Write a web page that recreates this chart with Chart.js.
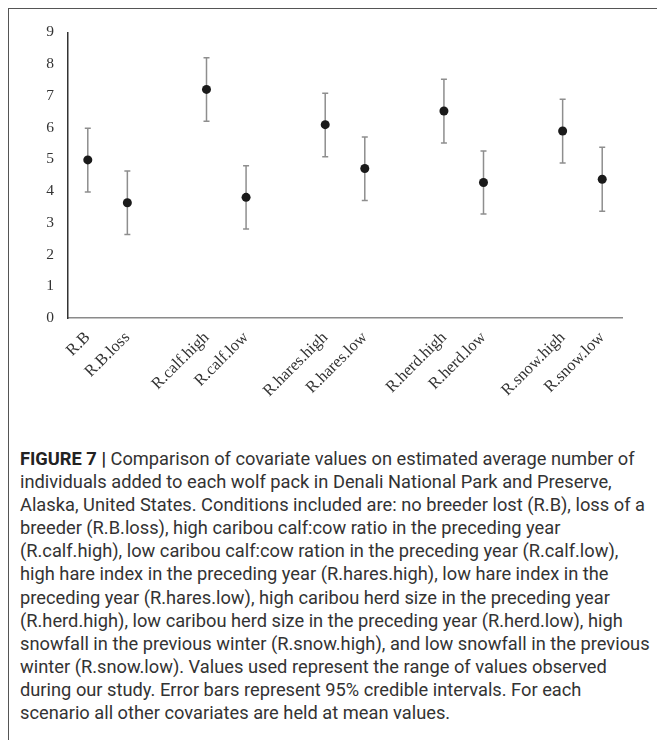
<!DOCTYPE html>
<html lang="en">
<head>
    <meta charset="UTF-8">
    <title>Figure 7</title>
    <script src="https://cdn.jsdelivr.net/npm/chart.js@4.4.0/dist/chart.umd.min.js"></script>
    <style>
        html, body {
            margin: 0;
            padding: 0;
            background: #fff;
            width: 657px;
            height: 740px;
            overflow: hidden;
        }
        .frame {
            position: absolute;
            left: 8px;
            top: 8px;
            width: 720px;
            height: 800px;
            border: 1.5px solid #555;
        }
        .chart-box {
            position: absolute;
            left: 9px;
            top: 9px;
            width: 648px;
            height: 430px;
        }
        .caption {
            position: absolute;
            left: 20px;
            top: 447px;
            font-family: Roboto, "Liberation Sans", sans-serif;
            font-size: 18px;
            line-height: 23.1px;
            color: #333;
            white-space: nowrap;
        }
        .caption b {
            font-weight: bold;
            color: #222;
        }
    </style>
</head>
<body>
    <div class="frame"></div>
    <div class="chart-box">
        <canvas id="chart" width="648" height="430"></canvas>
    </div>
    <div class="caption" id="caption">
        <div><span id="firstLine"><b>FIGURE 7 |</b> Comparison of covariate values on estimated average number of</span></div>
        <div>individuals added to each wolf pack in Denali National Park and Preserve,</div>
        <div>Alaska, United States. Conditions included are: no breeder lost (R.B), loss of a</div>
        <div>breeder (R.B.loss), high caribou calf:cow ratio in the preceding year</div>
        <div>(R.calf.high), low caribou calf:cow ration in the preceding year (R.calf.low),</div>
        <div>high hare index in the preceding year (R.hares.high), low hare index in the</div>
        <div>preceding year (R.hares.low), high caribou herd size in the preceding year</div>
        <div>(R.herd.high), low caribou herd size in the preceding year (R.herd.low), high</div>
        <div>snowfall in the previous winter (R.snow.high), and low snowfall in the previous</div>
        <div>winter (R.snow.low). Values used represent the range of values observed</div>
        <div>during our study. Error bars represent 95% credible intervals. For each</div>
        <div>scenario all other covariates are held at mean values.</div>
    </div>

    <script>
        // blank slots separate the covariate pairs
        const categories = ['R.B', 'R.B.loss', '', 'R.calf.high', 'R.calf.low', '',
            'R.hares.high', 'R.hares.low', '', 'R.herd.high', 'R.herd.low', '',
            'R.snow.high', 'R.snow.low'];
        const means = [4.98, 3.63, null, 7.2, 3.8, null, 6.09, 4.71, null, 6.52, 4.27, null, 5.89, 4.37];
        const lower = [3.97, 2.63, null, 6.2, 2.8, null, 5.08, 3.7, null, 5.51, 3.28, null, 4.88, 3.36];
        const upper = [5.98, 4.63, null, 8.2, 4.8, null, 7.08, 5.7, null, 7.52, 5.26, null, 6.89, 5.38];
        const yTicks = [0, 1, 2, 3, 4, 5, 6, 7, 8, 9];

        // size the caption so the first line spans the same width as in the figure
        function fitCaption() {
            const cap = document.getElementById('caption');
            cap.style.fontSize = '18px';
            const w = document.getElementById('firstLine').getBoundingClientRect().width;
            cap.style.fontSize = (18 * 615 / w).toFixed(2) + 'px';
        }
        fitCaption();
        if (document.fonts && document.fonts.ready) {
            document.fonts.ready.then(fitCaption);
        }

        const errorBars = {
            id: 'errorBars',
            beforeDatasetsDraw(chart) {
                const ctx = chart.ctx;
                const x = chart.scales.x;
                const y = chart.scales.y;
                ctx.save();
                ctx.strokeStyle = '#8e8e8e';
                ctx.lineWidth = 1.5;
                means.forEach((m, i) => {
                    if (m === null) return;
                    const px = x.getPixelForValue(i);
                    const top = y.getPixelForValue(upper[i]);
                    const bot = y.getPixelForValue(lower[i]);
                    ctx.beginPath();
                    ctx.moveTo(px, top);
                    ctx.lineTo(px, bot);
                    ctx.moveTo(px - 3, top);
                    ctx.lineTo(px + 3, top);
                    ctx.moveTo(px - 3, bot);
                    ctx.lineTo(px + 3, bot);
                    ctx.stroke();
                });
                ctx.restore();
            }
        };

        const serifFamily = '"Liberation Serif", "Times New Roman", serif';

        new Chart(document.getElementById('chart'), {
            type: 'line',
            data: {
                labels: categories,
                datasets: [{
                    data: means,
                    showLine: false,
                    pointRadius: 4.5,
                    pointHoverRadius: 4.5,
                    pointBackgroundColor: '#1a1a1a',
                    pointBorderColor: '#1a1a1a',
                    pointBorderWidth: 0
                }]
            },
            options: {
                responsive: false,
                animation: false,
                layout: {
                    padding: { top: 23, right: 35, left: 0, bottom: 0 }
                },
                plugins: {
                    legend: { display: false },
                    tooltip: { enabled: false }
                },
                scales: {
                    x: {
                        type: 'category',
                        offset: true,
                        grid: { display: false, drawTicks: false },
                        border: { display: true, color: '#8a8a8a', width: 1.5 },
                        ticks: {
                            autoSkip: false,
                            minRotation: 45,
                            maxRotation: 45,
                            padding: 10,
                            color: '#333',
                            font: { family: serifFamily, size: 16.5 }
                        },
                        afterFit(scale) { scale.height = 121; }
                    },
                    y: {
                        min: 0,
                        max: 9,
                        afterBuildTicks(scale) {
                            scale.ticks = yTicks.map(v => ({ value: v }));
                        },
                        grid: { display: false, drawTicks: false },
                        border: { display: true, color: '#333', width: 1.5 },
                        ticks: {
                            padding: 14,
                            color: '#333',
                            font: { family: serifFamily, size: 15.5 }
                        },
                        afterFit(scale) { scale.width = 59; }
                    }
                }
            },
            plugins: [errorBars]
        });
    </script>
</body>
</html>
